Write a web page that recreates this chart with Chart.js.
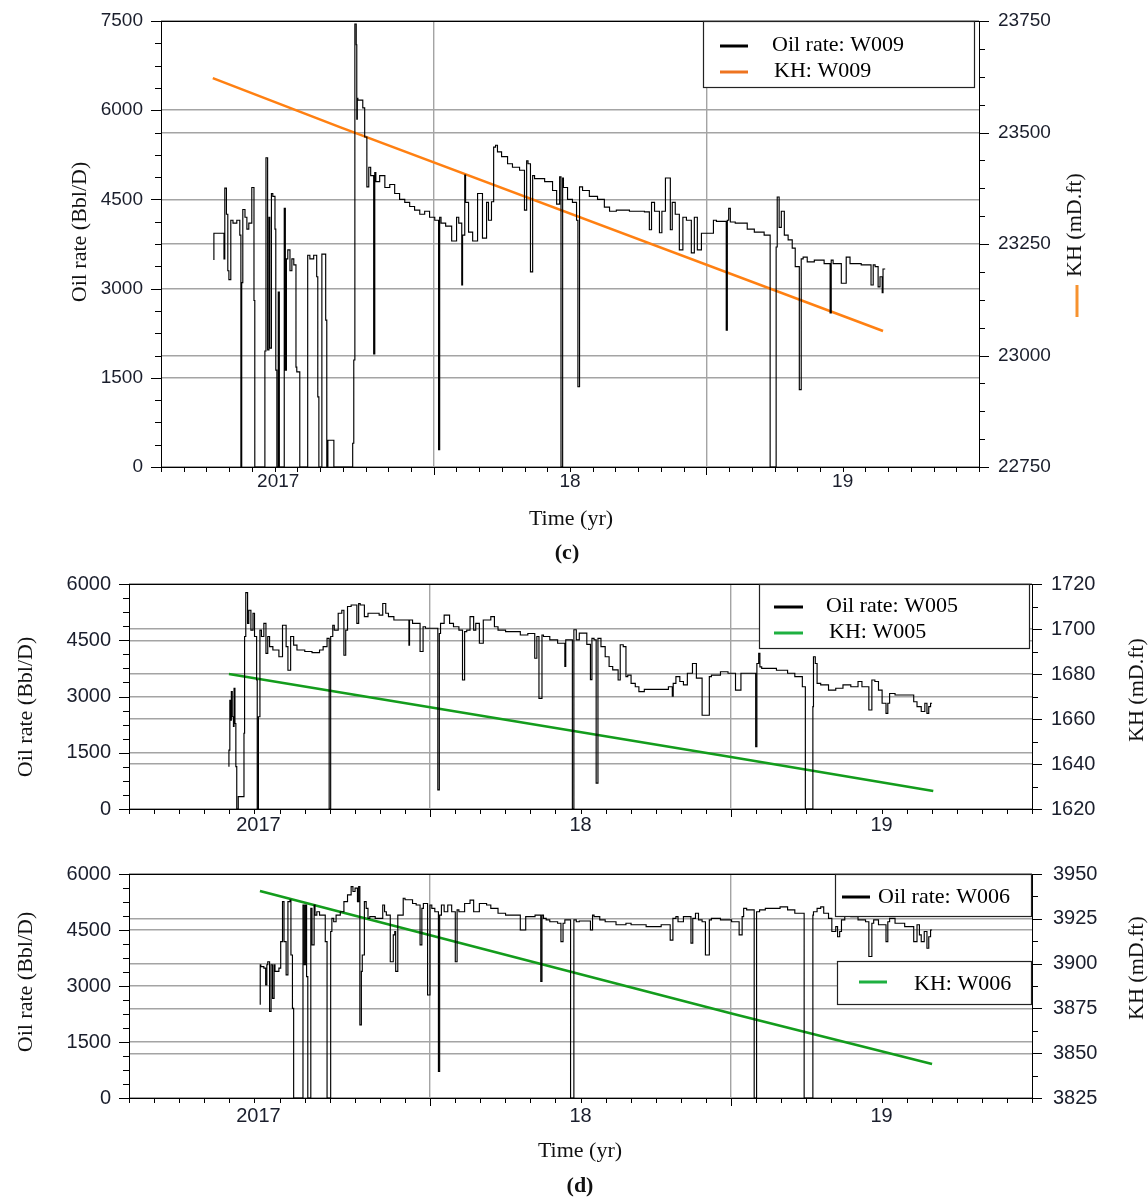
<!DOCTYPE html>
<html>
<head>
<meta charset="utf-8">
<script src="https://cdn.jsdelivr.net/npm/chart.js@4.4.1/dist/chart.umd.min.js"></script>
<style>
  body { margin: 0; background: #fff; }
  #page { position: relative; width: 1148px; height: 1197px; overflow: hidden;
          font-family: "Liberation Serif", "Times New Roman", serif; }
  canvas { position: absolute; left: 0; }
  .lbl { position: absolute; transform: translate(-50%, -50%); font-size: 22px; color: #111; white-space: nowrap; }
  .tag { font-weight: bold; }
</style>
</head>
<body>
<div id="page">
  <canvas id="c1" width="1148" height="540" style="top:0;width:1148px;height:540px"></canvas>
  <canvas id="c2" width="1148" height="270" style="top:570px;width:1148px;height:270px"></canvas>
  <canvas id="c3" width="1148" height="315" style="top:850px;width:1148px;height:315px"></canvas>
  <div class="lbl" style="left:571px;top:518px">Time (yr)</div>
  <div class="lbl tag" style="left:567px;top:552px">(c)</div>
  <div class="lbl" style="left:580px;top:1150px">Time (yr)</div>
  <div class="lbl tag" style="left:580px;top:1185px">(d)</div>
</div>
<script>
// x axis (decimal years)
const X_MIN = 2016.5, X_MAX = 2019.5;
const xLabelYears = [2016.93, 2018, 2019];
const xLabelText = ['2017', '18', '19'];
const xGridYears = [2017.5, 2018.5];

// (c) W009
const w009Years = [2016.694,2016.698,2016.731,2016.734,2016.740,2016.745,2016.749,2016.756,2016.764,2016.778,
  2016.789,2016.793,2016.796,2016.800,2016.808,2016.815,2016.822,2016.833,2016.841,2016.844,
  2016.848,2016.881,2016.885,2016.891,2016.896,2016.899,2016.905,2016.910,2016.918,2016.921,
  2016.925,2016.930,2016.934,2016.940,2016.952,2016.956,2016.960,2016.965,2016.973,2016.980,
  2016.987,2016.995,2016.998,2017.009,2017.016,2017.038,2017.046,2017.060,2017.071,2017.075,
  2017.079,2017.082,2017.090,2017.097,2017.104,2017.108,2017.112,2017.115,2017.134,2017.137,
  2017.203,2017.207,2017.211,2017.216,2017.218,2017.220,2017.222,2017.240,2017.247,2017.255,
  2017.262,2017.269,2017.280,2017.284,2017.288,2017.302,2017.321,2017.339,2017.357,2017.375,
  2017.394,2017.412,2017.430,2017.449,2017.467,2017.485,2017.504,2017.518,2017.522,2017.527,
  2017.544,2017.566,2017.584,2017.592,2017.603,2017.606,2017.614,2017.617,2017.628,2017.643,
  2017.661,2017.679,2017.694,2017.701,2017.712,2017.720,2017.727,2017.734,2017.749,2017.771,
  2017.789,2017.815,2017.833,2017.841,2017.846,2017.855,2017.863,2017.870,2017.907,2017.936,
  2017.951,2017.962,2017.967,2017.973,2017.976,2017.991,2018.009,2018.024,2018.029,2018.035,
  2018.046,2018.071,2018.101,2018.126,2018.145,2018.170,2018.218,2018.273,2018.291,2018.299,
  2018.310,2018.328,2018.337,2018.350,2018.368,2018.375,2018.386,2018.401,2018.414,2018.427,
  2018.445,2018.456,2018.467,2018.482,2018.496,2018.526,2018.537,2018.573,2018.577,2018.582,
  2018.588,2018.606,2018.650,2018.676,2018.712,2018.734,2018.738,2018.756,2018.760,2018.767,
  2018.775,2018.786,2018.800,2018.815,2018.826,2018.841,2018.848,2018.855,2018.870,2018.896,
  2018.932,2018.954,2018.958,2018.965,2018.995,2019.013,2019.027,2019.068,2019.104,2019.112,
  2019.119,2019.130,2019.137,2019.145,2019.148,2019.156];
const w009Rate = [3480,3930,3930,3500,4690,4250,3300,3150,4150,4100,
  4150,3900,0,3100,4330,4200,4000,4100,4700,2800,
  0,0,1950,5200,1970,4200,2000,4600,4550,4000,
  1630,0,2940,0,0,4350,1630,3500,3650,3300,
  3500,3400,1680,1600,0,0,3560,3500,3560,3200,
  1180,0,0,3580,3580,2470,0,450,450,0,
  0,400,1800,7450,7100,5850,6200,6170,6040,5550,
  4710,5040,4900,1900,4950,4800,4900,4700,4750,4600,
  4500,4450,4380,4320,4250,4300,4200,4150,290,4200,
  4100,4050,3800,4200,4100,3060,3900,4910,4450,3950,
  3800,4600,3850,4450,4150,4460,5380,5410,5300,5220,
  5100,5040,4990,4320,5150,5100,3280,4900,4850,4800,
  4650,4420,4880,0,4860,4700,4500,4450,4150,1350,
  4710,4650,4550,4500,4370,4300,4320,4300,4290,3990,
  4450,4300,3940,4300,4860,3990,4450,4250,3650,4200,
  4150,3600,4200,3650,3930,3930,4150,4130,2300,4150,
  4350,4120,4100,4000,3950,3900,0,0,3700,4540,
  4030,4300,3900,3820,3680,3370,1300,3500,3530,3450,
  3480,3420,2590,3480,3420,3090,3530,3420,3400,3060,
  3400,3370,3030,3200,2930,3330];
const kh009Years = [2016.690, 2017.156, 2019.148];
const kh009Value = [23622, 23512, 23055];

// (d) W005
const w005Years = [2016.832,2016.835,2016.837,2016.840,2016.843,2016.847,2016.849,2016.852,2016.855,2016.858,
  2016.863,2016.868,2016.882,2016.884,2016.888,2016.894,2016.898,2016.905,2016.912,2016.917,
  2016.924,2016.926,2016.930,2016.935,2016.940,2016.948,2016.955,2016.961,2016.967,2016.978,
  2016.998,2017.010,2017.022,2017.028,2017.037,2017.047,2017.058,2017.084,2017.108,2017.133,
  2017.145,2017.158,2017.165,2017.170,2017.177,2017.182,2017.195,2017.207,2017.214,2017.220,
  2017.226,2017.238,2017.257,2017.263,2017.268,2017.282,2017.294,2017.305,2017.331,2017.343,
  2017.353,2017.362,2017.380,2017.405,2017.430,2017.432,2017.442,2017.454,2017.467,2017.477,
  2017.485,2017.504,2017.526,2017.531,2017.535,2017.547,2017.565,2017.578,2017.596,2017.608,
  2017.615,2017.622,2017.633,2017.645,2017.652,2017.664,2017.677,2017.688,2017.702,2017.714,
  2017.726,2017.751,2017.800,2017.825,2017.848,2017.855,2017.862,2017.872,2017.877,2017.898,
  2017.924,2017.935,2017.948,2017.951,2017.961,2017.973,2017.978,2017.986,2017.996,2018.021,
  2018.033,2018.038,2018.045,2018.052,2018.058,2018.068,2018.082,2018.095,2018.107,2018.125,
  2018.132,2018.142,2018.151,2018.157,2018.168,2018.182,2018.194,2018.212,2018.292,2018.305,
  2018.308,2018.317,2018.330,2018.342,2018.355,2018.372,2018.385,2018.392,2018.404,2018.428,
  2018.435,2018.465,2018.490,2018.515,2018.533,2018.538,2018.582,2018.586,2018.592,2018.596,
  2018.602,2018.651,2018.688,2018.712,2018.737,2018.747,2018.752,2018.772,2018.774,2018.780,
  2018.786,2018.798,2018.824,2018.848,2018.872,2018.898,2018.922,2018.935,2018.958,2018.968,
  2018.978,2018.990,2019.002,2019.015,2019.021,2019.027,2019.045,2019.107,2019.118,2019.132,
  2019.144,2019.151,2019.157,2019.163,2019.168];
const w005Rate = [1130,1570,2900,2370,3130,2460,2200,3220,2280,1130,
  0,330,330,2020,4600,5770,4950,5300,4770,5220,
  4600,3440,0,2460,4770,4600,4950,4150,4600,4330,
  4240,4060,4900,4330,3700,4600,4370,4240,4200,4170,
  4240,4330,4550,0,4600,4900,4770,5220,5300,4100,
  4770,5400,5440,4950,5480,5440,5130,5220,5220,5170,
  5480,5220,5130,5040,5040,4370,5040,4950,4950,4200,
  4860,4820,4820,510,4680,4950,5170,4950,4860,4770,
  3440,4730,4770,5130,4770,4950,4420,5040,5040,5130,
  4860,4770,4730,4640,4680,4020,4600,2950,4640,4600,
  4510,4420,4420,3800,4510,4510,0,4780,4510,4690,
  4390,3450,4550,4510,690,4550,4330,4060,3800,3710,
  3440,4380,4330,3530,3570,3350,3260,3130,3190,3260,
  3010,3350,3530,3400,3310,3620,3880,3490,3490,2500,
  3530,3570,3660,3620,3170,3620,3620,1660,3880,4150,
  3790,3750,3700,3620,3530,3260,0,0,2730,4060,
  3880,3350,3310,3170,3220,3310,3260,3400,3260,2640,
  3440,3400,3170,2820,2550,2820,3080,3040,2860,2730,
  2600,2820,2550,2730,2820];
const kh005Years = [2016.832, 2018.505, 2019.172];
const kh005Value = [1680, 1643, 1628];

// (d) W006
const w006Years = [2016.936,2016.938,2016.948,2016.954,2016.958,2016.961,2016.967,2016.972,2016.977,2016.982,
  2016.985,2016.998,2017.004,2017.010,2017.015,2017.022,2017.028,2017.035,2017.038,2017.043,
  2017.047,2017.049,2017.078,2017.082,2017.086,2017.090,2017.094,2017.098,2017.104,2017.108,
  2017.115,2017.118,2017.124,2017.133,2017.152,2017.158,2017.162,2017.170,2017.174,2017.180,
  2017.188,2017.202,2017.214,2017.226,2017.238,2017.244,2017.251,2017.259,2017.263,2017.267,
  2017.272,2017.275,2017.282,2017.288,2017.294,2017.300,2017.318,2017.343,2017.349,2017.355,
  2017.368,2017.378,2017.383,2017.386,2017.393,2017.398,2017.411,2017.417,2017.442,2017.454,
  2017.467,2017.473,2017.478,2017.492,2017.500,2017.506,2017.516,2017.528,2017.532,2017.538,
  2017.547,2017.559,2017.572,2017.584,2017.590,2017.596,2017.615,2017.633,2017.645,2017.652,
  2017.664,2017.688,2017.702,2017.726,2017.751,2017.775,2017.800,2017.818,2017.825,2017.849,
  2017.868,2017.872,2017.877,2017.886,2017.898,2017.924,2017.935,2017.942,2017.948,2017.967,
  2017.978,2017.986,2017.996,2018.033,2018.040,2018.045,2018.064,2018.082,2018.118,2018.151,
  2018.168,2018.218,2018.268,2018.298,2018.307,2018.317,2018.324,2018.330,2018.342,2018.367,
  2018.373,2018.382,2018.392,2018.404,2018.415,2018.428,2018.435,2018.465,2018.502,2018.527,
  2018.537,2018.542,2018.552,2018.577,2018.585,2018.595,2018.614,2018.663,2018.688,2018.712,
  2018.743,2018.748,2018.772,2018.774,2018.786,2018.798,2018.808,2018.824,2018.835,2018.848,
  2018.854,2018.861,2018.867,2018.878,2018.898,2018.922,2018.947,2018.958,2018.968,2018.974,
  2018.990,2019.015,2019.021,2019.027,2019.045,2019.077,2019.107,2019.118,2019.126,2019.132,
  2019.142,2019.151,2019.157,2019.163,2019.168];
const w006Rate = [2500,3570,3520,3480,3030,3570,3650,2320,3570,2670,
  3570,3390,3480,4190,5260,4190,3300,5260,5300,3830,
  2400,0,0,5170,3570,5170,3250,0,0,5080,
  4100,5170,4900,4990,4900,4190,0,0,4460,4810,
  4720,4900,4990,5260,5440,5660,5530,5620,5260,5660,
  1960,3390,3830,5260,5080,4810,4860,4810,5170,4990,
  4900,3650,4370,4460,3390,4900,4900,5350,5310,5210,
  5170,4100,5080,5210,2760,5170,5080,4990,710,4900,
  5170,4990,5170,4990,3650,5040,4990,5210,5300,4990,
  4990,5210,5170,5080,4950,4900,4900,4500,4860,4860,
  4900,3120,4900,4810,4770,4720,4680,4190,4680,4770,
  0,4770,4720,4740,4500,4900,4860,4770,4720,4640,
  4680,4640,4590,4640,4230,4810,4860,4720,4720,4860,
  4150,4810,4950,4770,4720,3830,4770,4810,4770,4720,
  4370,4860,5080,5040,0,4990,5040,5080,5120,5040,
  4950,0,0,4900,4990,5080,5120,4950,4810,4460,
  4590,4320,4460,4770,4900,4860,4770,4720,3790,4680,
  4770,4640,4190,4720,4810,4680,4590,4190,4640,4370,
  4190,4460,4010,4320,4500];
const kh006Years = [2016.935, 2018.505, 2019.168];
const kh006Value = [3940.5, 3872, 3844];

const GRID = '#a4a4a4';
const TICK_COLOR = '#1a1e2c';
const SANS = '"Liberation Sans", Arial, sans-serif';
const SERIF = '"Liberation Serif", "Times New Roman", serif';

function toPoints(xs, ys) {
  return xs.map((x, i) => ({ x: x, y: ys[i] }));
}

function near(list, v) {
  return list.some(m => Math.abs(m - v) < 1e-6);
}

// ticks, frame, legend boxes and axis titles
const decorPlugin = {
  id: 'wellDecor',
  beforeDatasetsDraw(chart, args, opts) {
    const { ctx, chartArea: a, scales } = chart;
    ctx.save();
    ctx.strokeStyle = '#000';
    ctx.lineWidth = 1;
    const yTicks = (scale, x0, dir, step, majors) => {
      for (let v = scale.min; v <= scale.max + 1e-6; v += step) {
        const y = Math.round(scale.getPixelForValue(v)) + 0.5;
        const len = near(majors, v) ? 10 : 6;
        ctx.beginPath(); ctx.moveTo(x0, y); ctx.lineTo(x0 + dir * len, y); ctx.stroke();
      }
    };
    yTicks(scales.yL, Math.round(a.left), -1, opts.leftMinor, scales.yL.ticks.map(t => t.value));
    yTicks(scales.yR, Math.round(a.right), 1, opts.rightMinor, scales.yR.ticks.map(t => t.value));
    for (let m = 0; m <= 36; m++) {
      const v = X_MIN + m / 12;
      const x = Math.round(scales.x.getPixelForValue(v)) + 0.5;
      const len = near(xGridYears, v) ? 8 : 5;
      ctx.beginPath(); ctx.moveTo(x, Math.round(a.bottom)); ctx.lineTo(x, Math.round(a.bottom) + len); ctx.stroke();
    }
    ctx.strokeRect(Math.round(a.left) + 0.5, Math.round(a.top) + 0.5,
      Math.round(a.right - a.left), Math.round(a.bottom - a.top));
    ctx.restore();
  },
  afterDraw(chart, args, opts) {
    const { ctx } = chart;
    ctx.save();
    (opts.boxes || []).forEach(b => {
      ctx.fillStyle = '#fff';
      ctx.fillRect(b.x, b.y, b.w, b.h);
      ctx.strokeStyle = '#222';
      ctx.lineWidth = 1.2;
      ctx.strokeRect(b.x + 0.5, b.y + 0.5, b.w, b.h);
    });
    ctx.font = '22px ' + SERIF;
    ctx.textBaseline = 'alphabetic';
    ctx.textAlign = 'left';
    (opts.items || []).forEach(it => {
      ctx.strokeStyle = it.color;
      ctx.lineWidth = 3;
      ctx.beginPath(); ctx.moveTo(it.x1, it.y); ctx.lineTo(it.x2, it.y); ctx.stroke();
      ctx.fillStyle = '#000';
      ctx.fillText(it.text, it.tx, it.ty);
    });
    (opts.titles || []).forEach(t => {
      ctx.save();
      ctx.translate(t.x, t.y);
      ctx.rotate(-Math.PI / 2);
      ctx.textAlign = 'center';
      ctx.textBaseline = 'middle';
      ctx.fillStyle = '#111';
      ctx.fillText(t.text, 0, 0);
      ctx.restore();
    });
    (opts.marks || []).forEach(mk => {
      ctx.strokeStyle = mk.color;
      ctx.lineWidth = 3;
      ctx.beginPath(); ctx.moveTo(mk.x, mk.y1); ctx.lineTo(mk.x, mk.y2); ctx.stroke();
    });
    ctx.restore();
  }
};

function buildChart(canvasId, spec) {
  const canvas = document.getElementById(canvasId);
  if (!canvas) {
    console.error('canvas not found: ' + canvasId);
    return null;
  }
  const xTicks = xLabelYears.concat(xGridYears).sort((p, q) => p - q);
  const font = { family: SANS, size: spec.fontSize };
  // keep tick labels from pushing the plot area around
  const noPad = s => { s.paddingTop = 0; s.paddingBottom = 0; s.paddingLeft = 0; s.paddingRight = 0; };
  return new Chart(canvas.getContext('2d'), {
    type: 'line',
    data: {
      datasets: [
        { label: spec.rateLabel, data: toPoints(spec.rateYears, spec.rateValues), yAxisID: 'yL',
          borderColor: '#000', borderWidth: 1.15, pointRadius: 0, stepped: 'after', order: 1 },
        { label: spec.khLabel, data: toPoints(spec.khYears, spec.khValues), yAxisID: 'yR',
          borderColor: spec.khColor, borderWidth: 2.6, pointRadius: 0, tension: 0, order: 2 }
      ]
    },
    options: {
      responsive: false,
      animation: false,
      devicePixelRatio: 1,
      layout: { padding: { top: spec.area.top, left: 0, right: 0, bottom: 0 } },
      plugins: {
        legend: { display: false },
        tooltip: { enabled: false },
        wellDecor: spec.decor
      },
      scales: {
        x: {
          type: 'linear', min: X_MIN, max: X_MAX,
          afterFit: s => { s.height = canvas.height - spec.area.bottom; noPad(s); },
          afterBuildTicks: s => { s.ticks = xTicks.map(v => ({ value: v })); },
          grid: {
            drawTicks: false, lineWidth: 1.4,
            color: c => (c.tick && near(xGridYears, c.tick.value)) ? GRID : 'rgba(0,0,0,0)'
          },
          border: { display: false },
          ticks: {
            autoSkip: false, maxRotation: 0, padding: spec.xPad, font: font, color: TICK_COLOR,
            callback: v => { const i = xLabelYears.indexOf(v); return i >= 0 ? xLabelText[i] : ''; }
          }
        },
        yL: {
          type: 'linear', position: 'left', min: spec.left.ticks[0], max: spec.left.ticks[spec.left.ticks.length - 1],
          afterFit: s => { s.width = spec.area.left; noPad(s); },
          afterBuildTicks: s => { s.ticks = spec.left.ticks.map(v => ({ value: v })); },
          grid: { drawTicks: false, color: GRID, lineWidth: 1.4 },
          border: { display: false },
          ticks: { padding: spec.left.pad, font: font, color: TICK_COLOR, callback: v => String(v) }
        },
        yR: {
          type: 'linear', position: 'right', min: spec.right.ticks[0], max: spec.right.ticks[spec.right.ticks.length - 1],
          afterFit: s => { s.width = canvas.width - spec.area.right; noPad(s); },
          afterBuildTicks: s => { s.ticks = spec.right.ticks.map(v => ({ value: v })); },
          grid: { drawTicks: false, color: GRID, lineWidth: 1.4 },
          border: { display: false },
          ticks: { padding: spec.right.pad, font: font, color: TICK_COLOR, callback: v => String(v) }
        }
      }
    },
    plugins: [decorPlugin]
  });
}

buildChart('c1', {
  area: { left: 161, right: 979, top: 21, bottom: 467 },
  fontSize: 19, xPad: 3,
  rateLabel: 'Oil rate: W009', rateYears: w009Years, rateValues: w009Rate,
  khLabel: 'KH: W009', khYears: kh009Years, khValues: kh009Value, khColor: '#ff8012',
  left: { ticks: [0, 1500, 3000, 4500, 6000, 7500], pad: 18 },
  right: { ticks: [22750, 23000, 23250, 23500, 23750], pad: 19 },
  decor: {
    leftMinor: 375, rightMinor: 62.5,
    boxes: [{ x: 703, y: 21, w: 271, h: 66 }],
    items: [
      { color: '#000', x1: 720, x2: 748, y: 46, text: 'Oil rate: W009', tx: 772, ty: 51 },
      { color: '#ee7420', x1: 720, x2: 748, y: 72, text: 'KH: W009', tx: 774, ty: 77 }
    ],
    titles: [
      { text: 'Oil rate (Bbl/D)', x: 80, y: 232 },
      { text: 'KH (mD.ft)', x: 1075, y: 225 }
    ],
    marks: [{ x: 1077, y1: 285, y2: 317, color: '#f7922f' }]
  }
});

buildChart('c2', {
  area: { left: 129, right: 1032, top: 14, bottom: 239 },
  fontSize: 20, xPad: 4,
  rateLabel: 'Oil rate: W005', rateYears: w005Years, rateValues: w005Rate,
  khLabel: 'KH: W005', khYears: kh005Years, khValues: kh005Value, khColor: '#139c1c',
  left: { ticks: [0, 1500, 3000, 4500, 6000], pad: 18 },
  right: { ticks: [1620, 1640, 1660, 1680, 1700, 1720], pad: 19 },
  decor: {
    leftMinor: 375, rightMinor: 10,
    boxes: [{ x: 759, y: 14, w: 270, h: 64 }],
    items: [
      { color: '#000', x1: 774, x2: 803, y: 37, text: 'Oil rate: W005', tx: 826, ty: 42 },
      { color: '#1eb040', x1: 774, x2: 803, y: 63, text: 'KH: W005', tx: 829, ty: 68 }
    ],
    titles: [
      { text: 'Oil rate (Bbl/D)', x: 26, y: 137 },
      { text: 'KH (mD.ft)', x: 1137, y: 120 }
    ]
  }
});

buildChart('c3', {
  area: { left: 129, right: 1032, top: 24, bottom: 248 },
  fontSize: 20, xPad: 6,
  rateLabel: 'Oil rate: W006', rateYears: w006Years, rateValues: w006Rate,
  khLabel: 'KH: W006', khYears: kh006Years, khValues: kh006Value, khColor: '#139c1c',
  left: { ticks: [0, 1500, 3000, 4500, 6000], pad: 18 },
  right: { ticks: [3825, 3850, 3875, 3900, 3925, 3950], pad: 21 },
  decor: {
    leftMinor: 375, rightMinor: 12.5,
    boxes: [{ x: 835, y: 24, w: 196, h: 42 }, { x: 837, y: 111, w: 194, h: 43 }],
    items: [
      { color: '#000', x1: 842, x2: 870, y: 47, text: 'Oil rate: W006', tx: 878, ty: 53 },
      { color: '#1eb040', x1: 859, x2: 887, y: 132, text: 'KH: W006', tx: 914, ty: 140 }
    ],
    titles: [
      { text: 'Oil rate (Bbl/D)', x: 26, y: 132 },
      { text: 'KH (mD.ft)', x: 1137, y: 118 }
    ]
  }
});
</script>
</body>
</html>
